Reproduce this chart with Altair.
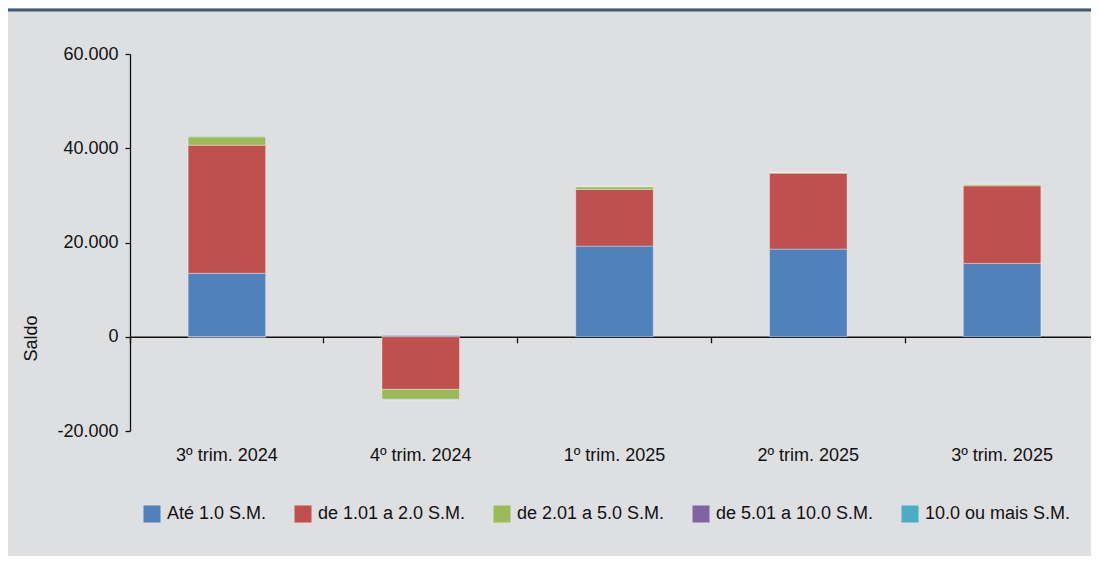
import altair as alt
import pandas as pd

quarters = ["3º trim. 2024", "4º trim. 2024", "1º trim. 2025", "2º trim. 2025", "3º trim. 2025"]
series = ["Até 1.0 S.M.", "de 1.01 a 2.0 S.M.", "de 2.01 a 5.0 S.M.", "de 5.01 a 10.0 S.M.", "10.0 ou mais S.M."]
colors = ["#4f81bd", "#c0504d", "#9bbb59", "#8064a2", "#4bacc6"]

ate_1 = [13450, 280, 19240, 18600, 15570]
de_1_2 = [27210, -11160, 12030, 16120, 16460]
de_2_5 = [1760, -2120, 570, 150, 360]
de_5_10 = [-100, -60, 30, 20, 20]
mais_10 = [100, -60, 50, 30, 40]

all_series = [ate_1, de_1_2, de_2_5, de_5_10, mais_10]
rows = []
for si, (name, vals) in enumerate(zip(series, all_series)):
    for q, v in zip(quarters, vals):
        rows.append({"trim": q, "faixa": name, "valor": v, "ordem": si})
df = pd.DataFrame(rows)

FONT = "Liberation Sans, Arial, sans-serif"
INK = "#111111"

label_expr = ("datum.value == 0 ? '0' : (datum.value < 0 ? '-' : '') + "
              "format(abs(datum.value) / 1000, 'd') + '.000'")

xscale = alt.Scale(paddingInner=0, paddingOuter=0, range=[0, 969])

bars = alt.Chart(df).mark_bar(
    width=alt.RelativeBandSize(0.4), stroke="white", strokeOpacity=0.35, strokeWidth=1
).encode(
    x=alt.X("trim:N", sort=quarters, scale=xscale,
            axis=alt.Axis(title=None, domain=False, ticks=False, labelPadding=15,
                          labelAngle=0, labelFontSize=18, labelColor=INK)),
    y=alt.Y("valor:Q", stack="zero",
            scale=alt.Scale(domain=[-20000, 60000], nice=False, zero=False),
            axis=alt.Axis(values=[-20000, 0, 20000, 40000, 60000], labelExpr=label_expr,
                          grid=False, title="Saldo", titleFontSize=18, titleFontWeight="normal",
                          titleColor=INK, titleAngle=270, titleX=-99, titleY=284,
                          titleAlign="center", titleBaseline="middle",
                          labelFontSize=18, labelColor=INK, tickSize=5, labelPadding=7,
                          domainColor=INK, tickColor=INK, domainWidth=1.3, tickWidth=1.3)),
    color=alt.Color("faixa:N", sort=series,
                    scale=alt.Scale(domain=series, range=colors),
                    legend=alt.Legend(title=None, orient="none", legendX=13, legendY=451,
                                      direction="horizontal", columns=5, symbolType="square",
                                      symbolSize=289, symbolStrokeWidth=0, labelFontSize=18,
                                      labelOffset=6, columnPadding=27, labelColor=INK)),
    order=alt.Order("ordem:Q"),
)

zero_axis = alt.Chart(df).mark_point(opacity=0).encode(
    x=alt.X("trim:N", sort=quarters, scale=xscale,
            axis=alt.Axis(orient="bottom", offset=-94.25, labels=False, ticks=True, tickSize=6,
                          bandPosition=0, domain=True, domainColor=INK, domainWidth=1.3,
                          tickColor=INK, tickWidth=1.3, title=None)),
)

top_line = alt.Chart(pd.DataFrame({"k": [0]})).mark_rule(color="#3d5a78", strokeWidth=3).encode(
    x=alt.value(-122), x2=alt.value(980), y=alt.value(-44)
)

chart = alt.layer(bars, zero_axis, top_line).resolve_axis(x="independent").properties(
    width=961, height=377,
    background="#dedfe1",
    padding={"left": 122, "top": 46, "right": 0, "bottom": 125},
    autosize=alt.AutoSizeParams(type="none"),
).configure(font=FONT).configure_view(stroke=None)

chart.save("out.html", embed_options={"renderer": "svg", "actions": False})
